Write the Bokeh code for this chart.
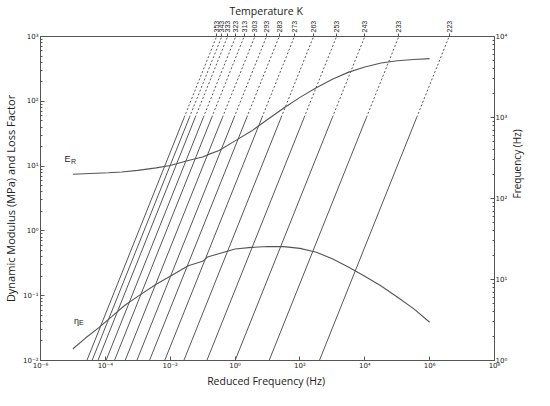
import math
from bokeh.plotting import figure
from bokeh.models import Range1d, LogAxis, FixedTicker, CustomJSTickFormatter, Title
from bokeh.core.properties import value
from bokeh.embed import file_html
from bokeh.resources import INLINE

# ---------------- data ----------------
temps = [353, 343, 333, 323, 313, 303, 293, 283, 273, 263, 253, 243, 233, 223]
log_shift = [-4.57, -4.41, -4.23, -3.98, -3.72, -3.39, -3.03, -2.64, -2.17, -1.58, -0.87, 0.0, 1.05, 2.60]

band_lo, band_mid, band_hi = 1.0, 1.0e3, 1.0e4   # measured frequency band (Hz)

er_freq = [1e-5, 3.2e-5, 1.25e-4, 3.2e-4, 1e-3, 3.7e-3, 1e-2, 3.6e-2, 0.1, 0.14, 0.32, 1,
           3.2, 10, 32, 100, 320, 1e3, 3.2e3, 1e4, 3.2e4, 1e5, 3.2e5, 1e6]
er_mod = [7.5, 7.7, 7.9, 8.1, 8.6, 9.4, 10.2, 12.2, 13.8, 14.9, 17.4, 24.5,
          34.7, 52.5, 79, 115, 162, 219, 282, 339, 389, 422, 442, 455]

eta_freq = [1e-5, 2.5e-5, 6.3e-5, 1.6e-4, 4e-4, 1e-3, 3.7e-3, 1e-2, 3.6e-2, 0.1, 0.14, 1,
            3.2, 10, 32, 100, 320, 1e3, 3.2e3, 1e4, 3.2e4, 1e5, 3.2e5, 1e6]
eta_loss = [0.0152, 0.0224, 0.0321, 0.0479, 0.0713, 0.0977, 0.150, 0.200, 0.290, 0.339, 0.395, 0.525,
            0.556, 0.573, 0.571, 0.538, 0.468, 0.372, 0.275, 0.200, 0.141, 0.0955, 0.0631, 0.0389]

x_ticks = [1e-6, 1e-4, 1e-2, 1e0, 1e2, 1e4, 1e6, 1e8]
left_ticks = [1e-2, 1e-1, 1e0, 1e1, 1e2, 1e3]
right_ticks = [1e0, 1e1, 1e2, 1e3, 1e4]

# ---------------- figure ----------------
p = figure(width=534, height=390, x_axis_type="log", y_axis_type="log",
           x_range=Range1d(1e-6, 1e8), y_range=Range1d(1e-2, 1e3),
           output_backend="svg", toolbar_location=None,
           min_border_left=31, min_border_right=20, min_border_top=25, min_border_bottom=20)
p.extra_y_ranges = {"freq": Range1d(band_lo, band_hi)}
p.xgrid.visible = False
p.ygrid.visible = False
p.outline_line_color = "#555555"
p.outline_line_width = 1

sup_code = """
const sup = {"-":"\u207b","0":"\u2070","1":"\u00b9","2":"\u00b2","3":"\u00b3","4":"\u2074",
             "5":"\u2075","6":"\u2076","7":"\u2077","8":"\u2078","9":"\u2079"};
const e = Math.round(Math.log10(tick));
return "10" + String(e).split("").map(c => sup[c]).join("");
"""

def minors(majors):
    out = []
    for m in majors[:-1]:
        out += [k * m for k in range(2, 10)]
    return out

TICK_FONT = "DejaVu Sans"
LABEL_FONT = "Open Sans"
AX_COL = "#555555"
TXT_COL = "#222222"

def style(ax, size="7px"):
    ax.axis_line_color = AX_COL
    ax.major_tick_line_color = AX_COL
    ax.minor_tick_line_color = AX_COL
    ax.major_label_text_font = TICK_FONT
    ax.major_label_text_font_size = size
    ax.major_label_text_color = TXT_COL
    ax.axis_label_text_font = LABEL_FONT
    ax.axis_label_text_font_size = "11px"
    ax.axis_label_text_font_style = "normal"
    ax.axis_label_text_color = TXT_COL

# bottom
xa = p.xaxis[0]
xa.ticker = FixedTicker(ticks=x_ticks, minor_ticks=[])
xa.formatter = CustomJSTickFormatter(code=sup_code)
style(xa)
xa.axis_label_text_font_size = "10.5px"
xa.major_tick_in = 4
xa.major_tick_out = 0
xa.major_label_standoff = 1
xa.axis_label = "Reduced Frequency  (Hz)"
xa.axis_label_standoff = 1

# left
ya = p.yaxis[0]
ya.ticker = FixedTicker(ticks=left_ticks, minor_ticks=minors(left_ticks))
ya.formatter = CustomJSTickFormatter(code=sup_code)
style(ya)
ya.major_tick_in = 4
ya.major_tick_out = 0
ya.minor_tick_in = 2
ya.minor_tick_out = 0
ya.major_label_standoff = 2
ya.axis_label = "Dynamic Modulus (MPa) and Loss Factor"
ya.axis_label_standoff = 2

# right
ra = LogAxis(y_range_name="freq",
             ticker=FixedTicker(ticks=right_ticks, minor_ticks=minors(right_ticks)),
             formatter=CustomJSTickFormatter(code=sup_code))
style(ra)
ra.axis_label_text_font_size = "10px"
ra.major_tick_in = 4
ra.major_tick_out = 0
ra.minor_tick_in = 2
ra.minor_tick_out = 0
ra.major_label_standoff = 1
if "axis_label_orientation" in ra.properties():
    ra.axis_label = "Frequency (Hz)"
    ra.axis_label_orientation = math.pi / 2
    ra.axis_label_standoff = 7
    p.add_layout(ra, "right")
else:
    ra.axis_label = None
    p.add_layout(ra, "right")
    p.add_layout(Title(text="Frequency (Hz)", align="center", text_font=LABEL_FONT,
                       text_font_size="10px", text_font_style="normal",
                       text_color=TXT_COL, standoff=4), "right")

# top: temperatures
top_ticks = [10 ** s * band_hi for s in log_shift]
ta = LogAxis(ticker=FixedTicker(ticks=top_ticks, minor_ticks=[]),
             formatter=CustomJSTickFormatter(
                 args=dict(vals=top_ticks, labels=[str(t) for t in temps]),
                 code="""
let best = 0, bd = 1e9;
for (let i = 0; i < vals.length; i++) {
  const d = Math.abs(Math.log10(vals[i]) - Math.log10(tick));
  if (d < bd) { bd = d; best = i; }
}
return labels[best];
"""))
style(ta, size="7px")
ta.major_label_text_font = "Liberation Sans"
ta.axis_label_text_font_size = "10.5px"
ta.major_tick_in = 0
ta.major_tick_out = 3
ta.major_label_orientation = "vertical"
ta.major_label_standoff = 1
ta.axis_label = "Temperature  K"
ta.axis_label_standoff = 0
p.add_layout(ta, "above")

# ---------------- isotherm lines ----------------
solid_xs, solid_ys, dash_xs, dash_ys = [], [], [], []
for s in log_shift:
    a = 10 ** s
    solid_xs.append([band_lo * a, band_mid * a])
    solid_ys.append([band_lo, band_mid])
    dash_xs.append([band_mid * a, band_hi * a])
    dash_ys.append([band_mid, band_hi])

p.multi_line(solid_xs, solid_ys, y_range_name="freq", line_color="#444444", line_width=0.9)
p.multi_line(dash_xs, dash_ys, y_range_name="freq", line_color="#444444", line_width=0.9,
             line_dash="2 2")

# ---------------- master curves ----------------
p.line(er_freq, er_mod, line_color="#555555", line_width=1.1)
p.line(eta_freq, eta_loss, line_color="#555555", line_width=1.1)

# curve labels
p.text(x=[5.5e-6], y=[12.9], text=["E"], text_font=value("Liberation Sans"), text_font_size="9px",
       text_color=TXT_COL, text_baseline="alphabetic")
p.text(x=[5.5e-6], y=[12.9], text=["R"], text_font=value("Liberation Sans"), text_font_size="7px",
       text_color=TXT_COL, text_baseline="alphabetic", x_offset=6.5, y_offset=3)
p.text(x=[1.07e-5], y=[0.040], text=["\u03b7"], text_font=value("Liberation Sans"), text_font_size="9px",
       text_color=TXT_COL, text_baseline="alphabetic")
p.text(x=[1.07e-5], y=[0.040], text=["E"], text_font=value("Liberation Sans"), text_font_size="7px",
       text_color=TXT_COL, text_baseline="alphabetic", x_offset=5, y_offset=1.5)

open("out.html", "w").write(file_html(p, INLINE))
